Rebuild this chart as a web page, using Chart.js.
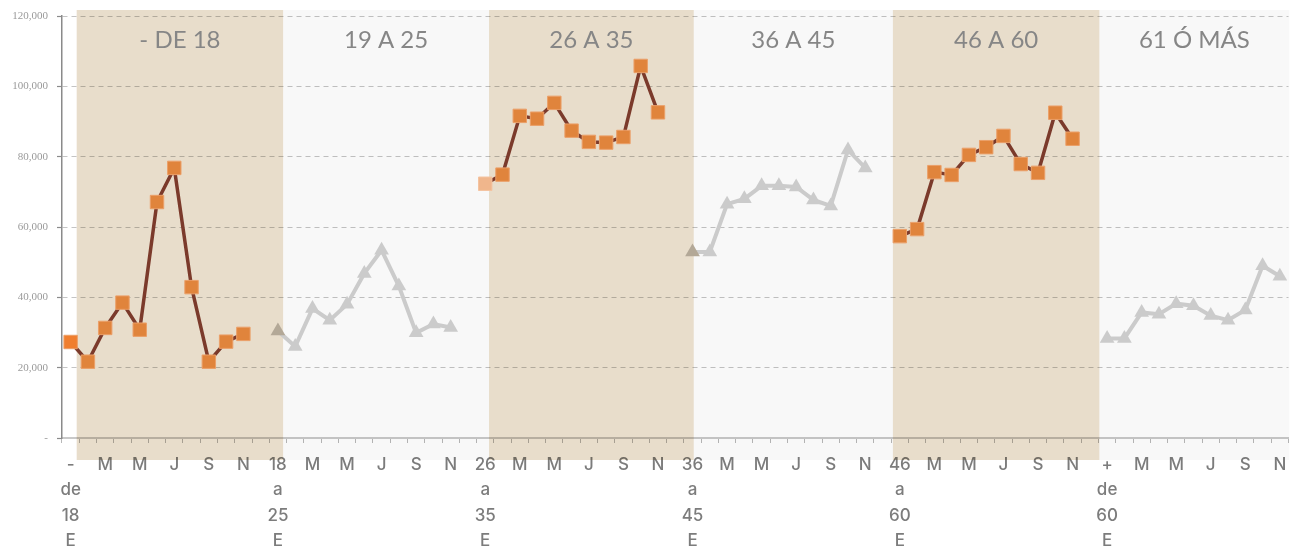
<!DOCTYPE html>
<html>
<head>
<meta charset="utf-8">
<script src="https://cdn.jsdelivr.net/npm/chart.js@4/dist/chart.umd.min.js"></script>
<style>
  html, body { margin: 0; padding: 0; background: #ffffff; }
  #wrap { width: 1299px; height: 548px; }
</style>
</head>
<body>
<div id="wrap"><canvas id="c" width="1299" height="548"></canvas></div>
<script>
// ---------- DATA ----------
const groupTitles = ['- DE 18', '19 A 25', '26 A 35', '36 A 45', '46 A 60', '61 Ó MÁS'];
const groupCodes = ['- de 18', '18 a 25', '26 a 35', '36 a 45', '46 a 60', '+ de 60'];
const months = ['E', 'F', 'M', 'A', 'M', 'J', 'J', 'A', 'S', 'O', 'N', 'D'];
const monthsPerGroup = [12, 12, 12, 12, 12, 11];

const groupMenos18 = [27300, 21700, 31300, 38500, 30800, 67100, 76800, 42900, 21700, 27400, 29600];
const group19a25 = [30400, 26000, 36800, 33500, 38000, 46800, 53400, 43200, 29900, 32400, 31400];
const group26a35 = [72300, 74900, 91600, 90800, 95300, 87400, 84200, 84000, 85600, 105800, 92600];
const group36a45 = [52900, 52900, 66500, 68000, 71700, 71700, 71400, 67700, 66000, 81900, 76800];
const group46a60 = [57400, 59400, 75600, 74800, 80500, 82700, 85900, 77900, 75400, 92500, 85100];
const group61mas = [28300, 28300, 35700, 35200, 38200, 37600, 34800, 33500, 36400, 49000, 46000];

const yTickValues = [0, 20000, 40000, 60000, 80000, 100000, 120000];

// ---------- BUILD ----------
const categories = [];
const groupStart = [];
monthsPerGroup.forEach((n, g) => {
  groupStart.push(categories.length);
  for (let m = 0; m < n; m++) {
    categories.push(m === 0 ? [...groupCodes[g].split(' '), months[m]] : months[m]);
  }
});
const allGroups = [groupMenos18, group19a25, group26a35, group36a45, group46a60, group61mas];
const seriesOrange = categories.map(() => null);
const seriesGray = categories.map(() => null);
allGroups.forEach((vals, g) => {
  const target = g % 2 === 0 ? seriesOrange : seriesGray;
  vals.forEach((v, i) => { target[groupStart[g] + i] = v; });
});

// ---------- LAYOUT / STYLE ----------
const bandEdges = [0.85, 12.8, 24.72, 36.57, 48.1, 60.05, 71.05];
const bandKinds = ['tan', 'gray', 'tan', 'gray', 'tan', 'gray'];
const bandColors = { tan: '#e8ddcb', gray: '#f8f8f8' };

function edgePx(scale, u) { return scale.getPixelForValue(u - 0.5); }
function bandKindAt(chart, idx) {
  const xs = chart.scales && chart.scales.x;
  if (!xs) return 'tan';
  const px = xs.getPixelForValue(idx);
  for (let i = 0; i < bandKinds.length; i++) {
    if (px >= edgePx(xs, bandEdges[i]) && px < edgePx(xs, bandEdges[i + 1])) return bandKinds[i];
  }
  return 'none';
}

const bandPlugin = {
  id: 'bands',
  beforeDatasetsDraw(chart) {
    const { ctx, chartArea } = chart;
    const xs = chart.scales.x;
    const top = chartArea.top - 6;
    const bottom = chartArea.bottom + 22;
    ctx.save();
    ctx.globalCompositeOperation = 'multiply';
    for (let i = 0; i < bandKinds.length; i++) {
      const l = edgePx(xs, bandEdges[i]);
      const r = edgePx(xs, bandEdges[i + 1]);
      ctx.fillStyle = bandColors[bandKinds[i]];
      ctx.fillRect(l, top, r - l, bottom - top);
    }
    ctx.restore();
    ctx.save();
    ctx.fillStyle = '#868686';
    ctx.font = '24px Lato';
    ctx.textAlign = 'center';
    ctx.textBaseline = 'alphabetic';
    for (let i = 0; i < groupTitles.length; i++) {
      const l = edgePx(xs, bandEdges[i]);
      const r = edgePx(xs, bandEdges[i + 1]);
      ctx.fillText(groupTitles[i], (l + r) / 2, chartArea.top + 32);
    }
    ctx.restore();
  }
};

const ctx = document.getElementById('c').getContext('2d');
new Chart(ctx, {
  type: 'line',
  data: {
    labels: categories,
    datasets: [
      {
        label: 'naranja',
        data: seriesOrange,
        borderColor: '#7b3a2b',
        borderWidth: 3.5,
        pointStyle: 'rect',
        pointRadius: 9.5,
        pointHoverRadius: 9.5,
        pointBorderWidth: 1,
        pointBorderColor: (c) => {
          const k = bandKindAt(c.chart, c.dataIndex);
          return k === 'gray' ? '#f4c3a0' : '#eb9f68';
        },
        pointBackgroundColor: (c) => {
          const k = bandKindAt(c.chart, c.dataIndex);
          return k === 'gray' ? '#f0b68c' : (k === 'none' ? '#f07e2e' : '#e0843c');
        },
        spanGaps: false,
        tension: 0
      },
      {
        label: 'gris',
        data: seriesGray,
        borderColor: '#cbcbcb',
        borderWidth: 4,
        pointStyle: 'triangle',
        pointRadius: 8.5,
        pointHoverRadius: 8.5,
        pointBorderWidth: 0,
        pointBackgroundColor: (c) => {
          const k = bandKindAt(c.chart, c.dataIndex);
          return k === 'tan' ? '#b3a897' : '#cbcbcb';
        },
        spanGaps: false,
        tension: 0
      }
    ]
  },
  options: {
    responsive: false,
    devicePixelRatio: 1,
    animation: false,
    events: [],
    layout: { padding: { top: 16, right: 8, left: 0, bottom: 0 } },
    plugins: { legend: { display: false }, tooltip: { enabled: false } },
    scales: {
      x: {
        type: 'category',
        offset: true,
        grid: {
          offset: true,
          drawOnChartArea: false,
          drawTicks: true,
          tickLength: 5,
          tickColor: '#b8b8b8',
          tickWidth: 1
        },
        border: { display: true, color: '#c9c9c9', width: 2 },
        ticks: {
          autoSkip: false,
          maxRotation: 0,
          minRotation: 0,
          padding: 9,
          color: '#7c7c7c',
          font: { family: 'Inter', size: 17, weight: '500', lineHeight: 1.5 },
          callback: function (v, i) { return i % 2 === 0 ? this.getLabelForValue(v) : ''; }
        },
        afterFit: (s) => { s.height = 110; }
      },
      y: {
        min: 0,
        max: 120000,
        afterBuildTicks: (s) => { s.ticks = yTickValues.map(v => ({ value: v })); },
        grid: {
          color: '#c4c4c4',
          lineWidth: 1,
          drawTicks: true,
          tickLength: 5,
          tickColor: '#8a8a8a',
          tickWidth: 1.2,
          tickBorderDash: []
        },
        border: { display: true, color: '#8a8a8a', width: 1.5, dash: [5, 4] },
        ticks: {
          padding: 9,
          color: '#9a9a9a',
          font: { family: 'Liberation Serif', size: 11 },
          callback: (v) => v === 0 ? '-' : v.toLocaleString('en-US')
        },
        afterFit: (s) => { s.width = 62; }
      }
    }
  },
  plugins: [bandPlugin]
});
</script>
</body>
</html>
